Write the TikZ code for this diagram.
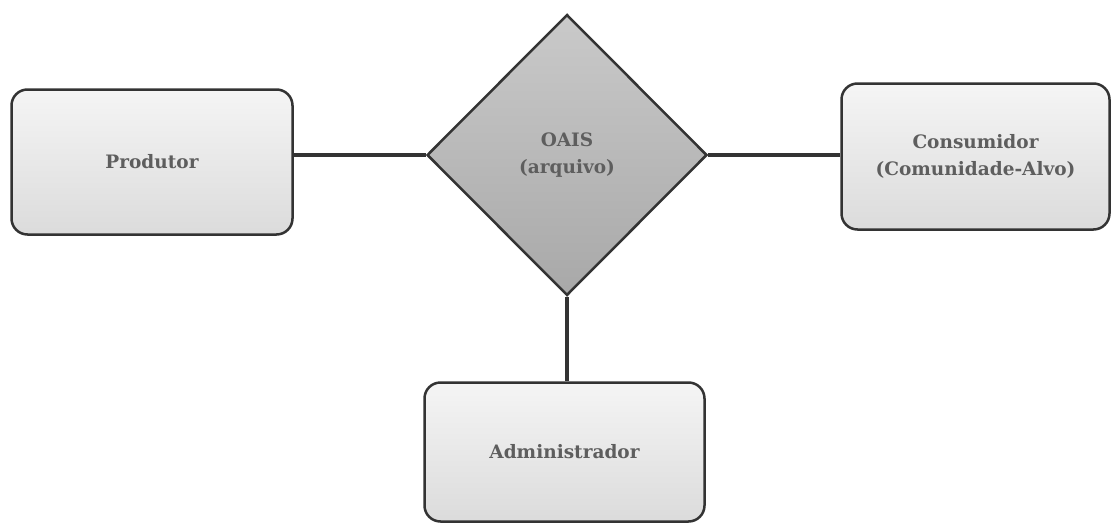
\documentclass[tikz,border=0pt]{standalone}
\usepackage{fontspec}
\setmainfont{DejaVu Serif}
\usetikzlibrary{shapes.geometric}

\definecolor{linha}{HTML}{333333}
\definecolor{texto}{HTML}{5E5E5E}

\tikzset{
    entidade/.style={draw=linha, line width=2.5pt, rounded corners=16pt,
        top color=gray!8, bottom color=gray!28, inner sep=0pt,
        align=center, text=texto, font=\bfseries\fontsize{18.5}{27}\selectfont},
    arquivo/.style={diamond, draw=linha, line width=2.5pt, inner sep=0pt,
        top color=gray!42, bottom color=gray!68, minimum width=280pt, minimum height=281pt,
        align=center, text=texto, font=\bfseries\fontsize{18.5}{27}\selectfont},
    liga/.style={draw=linha, line width=4pt}
}

\begin{document}
\begin{tikzpicture}[x=1pt, y=-1pt]
        \useasboundingbox (0, 0) rectangle (1112, 525);

        \node[arquivo] (oais) at (567, 155) {OAIS\\(arquivo)};

        \node[entidade, minimum width=281pt, minimum height=145pt] (prod) at (152, 162) {Produtor};
        \node[entidade, minimum width=268pt, minimum height=146pt] (cons) at (975.5, 156.5) {Consumidor\\(Comunidade-Alvo)};
        \node[entidade, minimum width=280pt, minimum height=139pt] (adm) at (564.5, 452) {Administrador};

        \draw[liga] (oais.west) -- (oais.west -| prod.east);
        \draw[liga] (oais.east) -- (oais.east -| cons.west);
        \draw[liga] (oais.south) -- (oais.south |- adm.north);
    \end{tikzpicture}
\end{document}
